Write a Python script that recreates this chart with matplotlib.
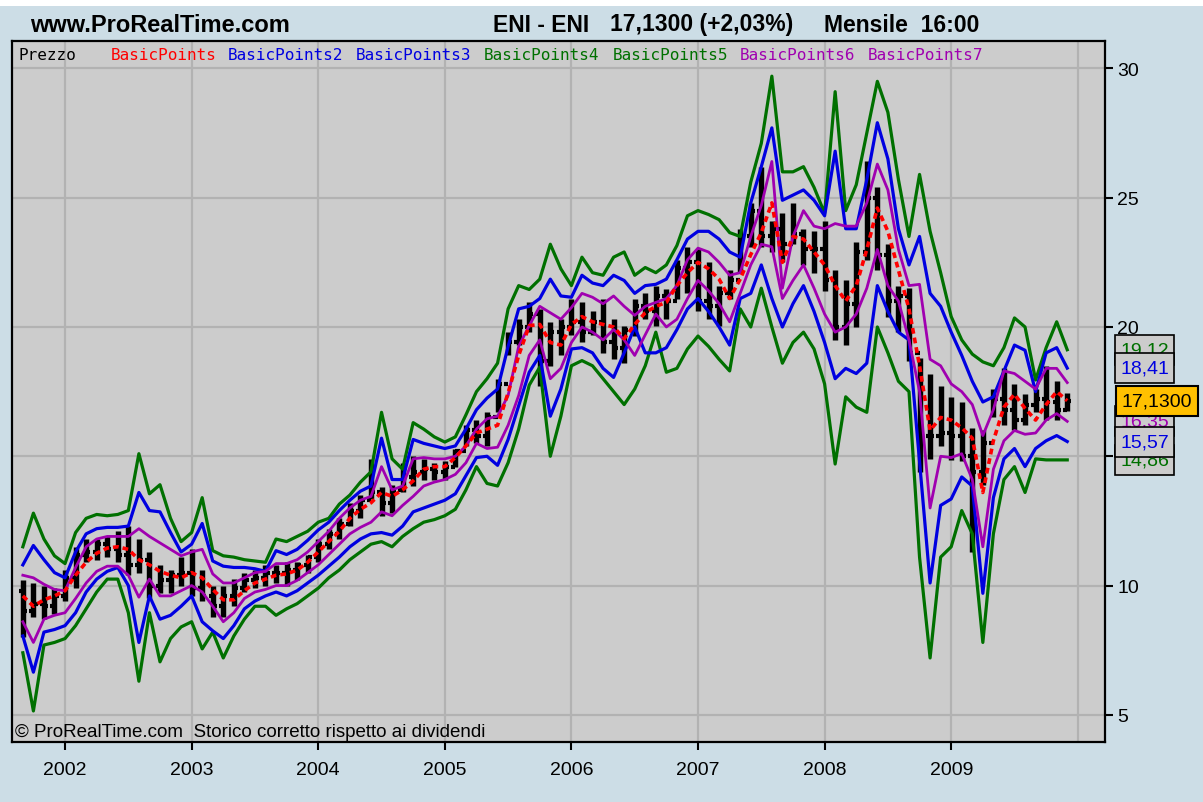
import pandas as pd
import matplotlib.pyplot as plt
from matplotlib.patches import Rectangle
from matplotlib.transforms import blended_transform_factory

# monthly bars, Sep 2001 .. Dec 2009
months = pd.date_range("2001-09-01", periods=100, freq="MS")

highs = [10.2, 10.1, 10.0, 9.9, 10.6, 11.5, 11.8, 11.8, 11.9, 12.1,
         12.3, 11.8, 11.3, 10.8, 10.6, 11.1, 11.4, 10.6, 10.0, 10.0,
         10.25, 10.5, 10.6, 10.8, 10.8, 10.9, 10.9, 11.2, 11.8, 12.2,
         12.6, 13.2, 13.5, 14.9, 13.8, 13.9, 14.75, 15.0, 14.9, 14.75,
         14.8, 15.3, 16.2, 16.4, 16.7, 18.0, 19.8, 20.3, 20.95, 20.7,
         20.2, 20.3, 21.1, 20.95, 20.6, 21.1, 20.3, 20.05, 21.1, 21.3,
         21.6, 21.45, 22.6, 23.1, 23.0, 22.5, 21.6, 22.2, 23.8, 24.8,
         26.2, 24.1, 24.4, 24.8, 23.8, 23.7, 24.1, 22.2, 21.8, 23.3,
         26.4, 25.4, 23.2, 21.6, 21.5, 18.8, 18.2, 17.7, 17.3, 17.1,
         16.1, 16.0, 17.6, 18.4, 17.8, 17.4, 17.6, 18.5, 17.9, 17.45]
lows = [8.0, 8.8, 8.7, 8.9, 9.4, 9.9, 10.9, 11.0, 11.1, 10.9,
        10.4, 10.5, 9.5, 9.7, 9.7, 10.0, 9.6, 9.4, 8.8, 8.8,
        9.2, 9.75, 9.9, 10.0, 10.1, 10.0, 10.2, 10.5, 10.9, 11.4,
        11.8, 12.3, 12.6, 13.35, 12.7, 12.8, 13.6, 13.85, 14.1, 14.1,
        14.1, 14.6, 15.4, 15.5, 15.4, 16.7, 18.9, 19.3, 19.8, 17.7,
        18.5, 18.9, 19.7, 19.4, 19.7, 19.0, 18.75, 18.6, 19.65, 20.3,
        20.05, 20.3, 21.1, 21.3, 20.6, 20.3, 20.05, 21.1, 22.1, 23.1,
        23.1, 22.9, 22.5, 23.2, 22.4, 22.1, 21.4, 19.5, 19.3, 20.0,
        22.6, 22.2, 20.4, 19.8, 18.7, 14.4, 14.9, 15.4, 14.85, 14.8,
        11.3, 13.9, 16.5, 16.2, 16.0, 16.2, 16.7, 16.4, 16.4, 16.75]
opens = [9.8, 9.0, 9.3, 9.2, 9.6, 10.3, 11.2, 11.3, 11.6, 11.4,
         11.2, 10.8, 11.0, 10.0, 10.2, 10.4, 10.5, 9.9, 9.6, 9.2,
         9.6, 9.9, 10.2, 10.3, 10.5, 10.5, 10.6, 10.8, 11.1, 11.6,
         12.0, 12.4, 12.9, 13.3, 13.6, 13.2, 13.7, 14.2, 14.4, 14.5,
         14.4, 14.6, 15.2, 16.0, 15.8, 16.5, 17.8, 19.4, 20.0, 20.5,
         18.7, 19.8, 20.0, 20.2, 19.8, 20.2, 19.4, 19.2, 19.9, 20.8,
         20.6, 21.2, 21.0, 22.3, 22.5, 21.0, 20.8, 21.3, 21.8, 23.5,
         24.5, 23.5, 23.8, 23.2, 23.6, 23.0, 23.0, 21.8, 20.0, 20.9,
         22.9, 25.0, 22.8, 21.0, 21.2, 19.0, 15.8, 15.8, 15.9, 15.8,
         15.0, 14.4, 15.5, 17.2, 16.8, 16.4, 17.0, 17.2, 17.1, 16.8]
closes = [9.0, 9.3, 9.2, 9.6, 10.3, 11.2, 11.3, 11.6, 11.4, 11.2,
          10.8, 11.0, 10.0, 10.2, 10.4, 10.5, 9.9, 9.6, 9.2, 9.6,
          9.9, 10.2, 10.3, 10.5, 10.5, 10.6, 10.8, 11.1, 11.6, 12.0,
          12.4, 12.9, 13.3, 13.6, 13.2, 13.7, 14.2, 14.4, 14.5, 14.4,
          14.6, 15.2, 16.0, 15.8, 16.5, 17.8, 19.4, 20.0, 20.5, 18.7,
          19.8, 20.0, 20.2, 19.8, 20.2, 19.4, 19.2, 19.9, 20.8, 20.6,
          21.2, 21.0, 22.3, 22.5, 21.0, 20.8, 21.3, 21.8, 23.5, 24.5,
          23.5, 23.8, 23.2, 23.6, 23.0, 23.0, 21.8, 20.0, 20.9, 22.9,
          25.0, 22.8, 21.0, 21.2, 19.0, 15.8, 15.8, 15.9, 15.8, 15.0,
          14.4, 15.5, 17.2, 16.8, 16.4, 17.0, 17.2, 17.1, 16.8, 17.13]

# BasicPoints (pivot, red dashed)
bp1 = [9.6, 9.2, 9.45, 9.6, 9.8, 10.4, 10.9, 11.25, 11.45, 11.5,
       11.4, 11.0, 10.8, 10.55, 10.4, 10.3, 10.5, 10.3, 9.85, 9.45,
       9.45, 9.8, 10.1, 10.25, 10.4, 10.45, 10.6, 10.9, 11.3, 11.7,
       12.1, 12.6, 12.95, 13.2, 13.6, 13.45, 13.7, 14.05, 14.5, 14.6,
       14.6, 14.95, 15.4, 15.9, 16.05, 16.2, 17.45, 18.9, 20.05, 20.1,
       19.4, 19.3, 20.1, 20.4, 20.2, 20.1, 20.0, 19.55, 20.1, 20.55,
       20.8, 20.95, 21.6, 22.1, 22.5, 22.25, 21.85, 21.1, 21.85, 22.8,
       23.65, 24.8, 22.5, 23.5, 23.4, 22.9, 22.4, 21.6, 21.0, 21.6,
       23.0, 24.6, 23.7, 22.2, 20.7, 18.5, 16.0, 16.5, 16.4, 16.1,
       15.7, 13.6, 15.6, 16.9, 17.4, 16.85, 16.4, 17.0, 17.5, 17.15]
# BasicPoints2 / 3 (blue)
bp2 = [10.8, 11.55, 11.0, 10.5, 10.3, 11.3, 12.0, 12.2, 12.25, 12.25,
       12.3, 13.6, 12.9, 12.85, 12.05, 11.3, 11.6, 12.4, 10.95, 10.75,
       10.7, 10.7, 10.65, 10.55, 11.35, 11.2, 11.4, 11.75, 12.15, 12.45,
       12.9, 13.3, 13.65, 13.85, 15.7, 14.1, 14.1, 15.65, 15.5, 15.4,
       15.3, 15.4, 16.05, 16.8, 17.25, 17.6, 19.25, 20.7, 20.8, 21.1,
       21.85, 21.2, 21.15, 22.0, 21.7, 21.6, 22.0, 21.8, 21.3, 21.6,
       21.65, 21.85, 22.6, 23.4, 23.7, 23.7, 23.4, 22.9, 22.7, 24.8,
       26.2, 27.7, 24.9, 25.1, 25.3, 24.9, 24.3, 26.8, 23.8, 23.8,
       25.7, 27.9, 26.5, 23.8, 22.4, 23.5, 21.3, 20.8, 19.8, 18.9,
       17.9, 17.1, 17.3, 18.3, 19.3, 19.1, 17.5, 19.0, 19.2, 18.41]
bp3 = [8.05, 6.65, 8.2, 8.3, 8.45, 8.95, 9.75, 10.25, 10.55, 10.7,
       10.0, 7.8, 9.6, 8.7, 8.85, 9.2, 9.6, 8.6, 8.25, 7.95,
       8.45, 9.1, 9.4, 9.6, 9.75, 9.6, 9.8, 10.1, 10.4, 10.75,
       11.1, 11.5, 11.8, 12.0, 12.05, 11.95, 12.3, 12.85, 13.0, 13.15,
       13.3, 13.55, 14.25, 14.95, 15.0, 14.65, 15.65, 16.95, 18.25, 18.9,
       16.55, 17.6, 19.15, 19.2, 19.0, 18.4, 18.05, 19.0, 20.0, 19.0,
       19.0, 19.2, 19.9, 20.7, 21.1, 20.6, 20.0, 19.3, 21.1, 21.3,
       22.4, 21.1, 20.0, 20.9, 21.6, 20.6, 19.4, 18.0, 18.4, 18.2,
       18.6, 21.6, 20.6, 19.8, 19.5, 14.8, 10.1, 13.1, 13.35, 14.2,
       13.85, 9.7, 13.4, 14.9, 15.3, 14.6, 15.3, 15.6, 15.8, 15.57]
# BasicPoints4 / 5 (green)
bp4 = [11.5, 12.8, 11.8, 11.15, 10.85, 12.05, 12.6, 12.75, 12.7, 12.75,
       12.9, 15.1, 13.55, 13.9, 12.6, 11.7, 12.05, 13.4, 11.35, 11.15,
       11.1, 11.0, 10.95, 10.9, 11.8, 11.7, 11.9, 12.1, 12.45, 12.6,
       13.15, 13.5, 14.0, 14.4, 16.7, 14.9, 14.5, 16.3, 16.05, 15.75,
       15.55, 15.75, 16.6, 17.5, 18.0, 18.6, 20.7, 21.6, 21.45, 21.85,
       23.2, 22.25, 21.6, 22.7, 22.1, 22.0, 22.7, 22.9, 22.0, 22.3,
       22.1, 22.4, 23.15, 24.3, 24.5, 24.35, 24.15, 23.65, 23.5, 25.6,
       27.1, 29.7, 26.0, 26.0, 26.2, 25.4, 24.4, 29.1, 24.5, 25.5,
       27.5, 29.5, 28.3, 25.7, 23.5, 25.9, 23.7, 22.1, 20.4, 19.5,
       18.95, 18.65, 18.5, 19.2, 20.35, 20.0, 17.95, 19.2, 20.2, 19.12]
bp5 = [7.4, 5.15, 7.7, 7.8, 7.95, 8.45, 9.1, 9.75, 10.25, 10.25,
       8.95, 6.3, 8.95, 7.05, 7.95, 8.4, 8.6, 7.55, 8.2, 7.2,
       8.05, 8.7, 9.2, 9.2, 8.85, 9.1, 9.3, 9.6, 9.9, 10.3,
       10.6, 11.0, 11.3, 11.6, 11.7, 11.5, 11.9, 12.2, 12.45, 12.55,
       12.7, 12.95, 13.7, 14.6, 13.95, 13.85, 14.75, 16.05, 17.75, 18.45,
       15.0, 16.55, 18.5, 18.7, 18.5, 18.0, 17.5, 17.0, 17.6, 18.5,
       19.8, 18.25, 18.4, 19.15, 19.65, 19.25, 18.75, 18.3, 20.7, 20.0,
       21.5, 20.0, 18.6, 19.4, 19.8, 19.15, 17.8, 14.7, 17.3, 16.9,
       16.7, 20.0, 19.0, 17.9, 17.5, 11.1, 7.2, 11.1, 11.5, 12.9,
       12.0, 7.8, 12.0, 14.1, 14.6, 13.6, 14.9, 14.86, 14.86, 14.86]
# BasicPoints6 / 7 (purple)
bp6 = [10.4, 10.3, 10.05, 9.85, 9.8, 10.7, 11.5, 11.8, 11.9, 11.9,
       11.9, 12.2, 11.9, 11.65, 11.4, 11.15, 11.3, 11.4, 10.45, 10.1,
       10.1, 10.3, 10.5, 10.55, 10.85, 10.85, 11.0, 11.3, 11.7, 12.1,
       12.6, 13.0, 13.3, 13.45, 14.6, 13.7, 13.85, 14.9, 14.95, 14.9,
       14.9, 15.0, 15.4, 16.05, 16.45, 16.55, 17.35, 19.25, 20.05, 20.8,
       20.55, 20.3, 20.75, 21.3, 21.15, 20.9, 21.2, 20.8, 20.45, 20.8,
       20.95, 21.1, 21.6, 22.6, 23.05, 22.9, 22.5, 22.0, 22.1, 23.5,
       24.7, 26.4, 21.5, 23.5, 24.5, 23.9, 23.8, 24.0, 23.9, 23.9,
       24.8, 26.3, 25.3, 23.0, 21.6, 21.65, 18.75, 18.5, 17.8, 17.5,
       17.0, 15.8, 16.8, 18.3, 18.2, 17.9, 17.6, 18.4, 18.4, 17.85]
bp7 = [8.6, 7.8, 8.7, 8.85, 8.95, 9.5, 10.1, 10.55, 10.75, 10.75,
       10.4, 9.55, 10.25, 9.6, 9.6, 9.8, 10.0, 9.75, 9.2, 8.6,
       8.95, 9.5, 9.75, 9.85, 10.0, 10.0, 10.2, 10.5, 10.8, 11.2,
       11.6, 12.0, 12.25, 12.45, 12.85, 12.7, 13.1, 13.45, 13.85, 14.0,
       14.1, 14.3, 14.75, 15.5, 15.3, 15.35, 16.2, 17.35, 18.9, 19.5,
       18.0, 18.4, 19.4, 20.0, 19.8, 19.5, 19.9, 19.5, 18.9, 19.7,
       20.5, 20.0, 20.3, 21.1, 21.8, 21.4, 20.9, 20.2, 21.3, 22.4,
       23.2, 23.1, 21.1, 21.8, 22.4, 21.5, 20.5, 19.8, 20.0, 20.5,
       21.5, 23.0, 21.6, 21.0, 19.5, 17.5, 13.0, 15.0, 14.95, 15.1,
       14.1, 11.5, 14.5, 15.6, 16.0, 15.85, 15.9, 16.4, 16.65, 16.35]

legend_names = ["Prezzo", "BasicPoints", "BasicPoints2", "BasicPoints3", "BasicPoints4",
                "BasicPoints5", "BasicPoints6", "BasicPoints7"]
year_labels = [2002, 2003, 2004, 2005, 2006, 2007, 2008, 2009]

GREEN = "#007000"
BLUE = "#0000e0"
PURPLE = "#a000b0"
RED = "#ff0000"

xs = months.year + (months.month - 1) / 12.0

fig = plt.figure(figsize=(12.03, 8.03), dpi=100)
fig.patch.set_facecolor("#ccdde6")
fig.patches.append(Rectangle((0, 796 / 803), 1, 7 / 803, transform=fig.transFigure,
                             facecolor="white", edgecolor="none"))

ax = fig.add_axes([12 / 1203, 60 / 803, 1093 / 1203, 701 / 803])
ax.set_facecolor("#cccccc")
ax.set_xlim(2001.581, 2010.215)
ax.set_ylim(3.95, 31.06)

# grid
for yr in range(2002, 2011):
    ax.axvline(yr, color="#b2b2b2", lw=1.6, zorder=0)
for v in range(5, 31, 5):
    ax.axhline(v, color="#b2b2b2", lw=1.6, zorder=0)

# price bars
ax.vlines(xs, lows, highs, color="black", lw=3.9, zorder=2)
ax.hlines(opens, xs - 0.033, xs, color="black", lw=3.0, zorder=2)
ax.hlines(closes, xs, xs + 0.033, color="black", lw=3.0, zorder=2)

# indicator lines
ax.plot(xs, bp4, color=GREEN, lw=2.3, zorder=3)
ax.plot(xs, bp5, color=GREEN, lw=2.3, zorder=3)
ax.plot(xs, bp2, color=BLUE, lw=2.3, zorder=3)
ax.plot(xs, bp3, color=BLUE, lw=2.3, zorder=3)
ax.plot(xs, bp6, color=PURPLE, lw=2.0, zorder=3)
ax.plot(xs, bp7, color=PURPLE, lw=2.0, zorder=3)
ax.plot(xs, bp1, color=RED, lw=2.6, ls=(0, (1.6, 1.1)), zorder=4)

# axes styling
for s in ax.spines.values():
    s.set_color("black")
    s.set_linewidth(1.6)
ax.set_xticks(year_labels)
ax.set_xticklabels([str(y) for y in year_labels], fontsize=14, family="Liberation Sans")
ax.set_yticks([5, 10, 15, 20, 25, 30])
ax.set_yticklabels(["5", "10", "15", "20", "25", "30"], fontsize=14, family="Liberation Sans")
ax.yaxis.tick_right()
ax.tick_params(axis="both", direction="out", length=6, width=1.5, color="black")
ax.tick_params(axis="x", pad=8)
ax.tick_params(axis="y", pad=3)

# legend row
legend_cols = ["black", RED, BLUE, BLUE, GREEN, GREEN, PURPLE, PURPLE]
legend_x = [18, 111, 228, 356, 484, 613, 740, 868]
for name, col, px in zip(legend_names, legend_cols, legend_x):
    ax.text((px - 12) / 1093, (743 - 56) / 701, name, transform=ax.transAxes,
            color=col, fontsize=11.5, family="DejaVu Sans Mono", va="center", ha="left")

ax.text(3 / 1093, (743 - 733) / 701, "\u00a9 ProRealTime.com  Storico corretto rispetto ai dividendi",
        transform=ax.transAxes, fontsize=13.5, family="Liberation Sans", va="center", ha="left")

# header
head_y = 1 - 25 / 803
fig.text(30 / 1203, head_y, "www.ProRealTime.com", fontsize=17, fontweight="bold",
         family="Liberation Sans", va="center", ha="left")
for px, txt in [(493, "ENI - ENI"), (610, "17,1300 (+2,03%)"), (824, "Mensile  16:00")]:
    fig.text(px / 1203, head_y, txt, fontsize=16.5, fontweight="bold",
             family="Liberation Sans", va="center", ha="left")

# value boxes on the right
tr = blended_transform_factory(ax.transAxes, ax.transData)
box_h = 30 / 25.86
value_boxes = [(19.12, "19,12", GREEN), (14.86, "14,86", GREEN), (16.35, "16,35", PURPLE),
               (18.41, "18,41", BLUE), (15.57, "15,57", BLUE)]
x0 = (1115 - 12) / 1093
bw = 59 / 1093
for val, txt, col in value_boxes:
    ax.add_patch(Rectangle((x0, val - box_h / 2), bw, box_h, transform=tr, clip_on=False,
                           facecolor="#cccccc", edgecolor="black", lw=1.2, zorder=5))
    ax.text(x0 + bw / 2, val, txt, transform=tr, color=col, fontsize=14, family="Liberation Sans",
            ha="center", va="center", clip_on=False, zorder=5)
ax.add_patch(Rectangle(((1116 - 12) / 1093, 17.13 - box_h / 2), 82 / 1093, box_h, transform=tr,
                       clip_on=False, facecolor="#ffc000", edgecolor="black", lw=1.5, zorder=6))
ax.text((1116 - 12 + 41) / 1093, 17.13, "17,1300", transform=tr, color="black", fontsize=14,
        family="Liberation Sans", ha="center", va="center", clip_on=False, zorder=6)

plt.savefig("out.png", dpi=100, facecolor=fig.get_facecolor())
